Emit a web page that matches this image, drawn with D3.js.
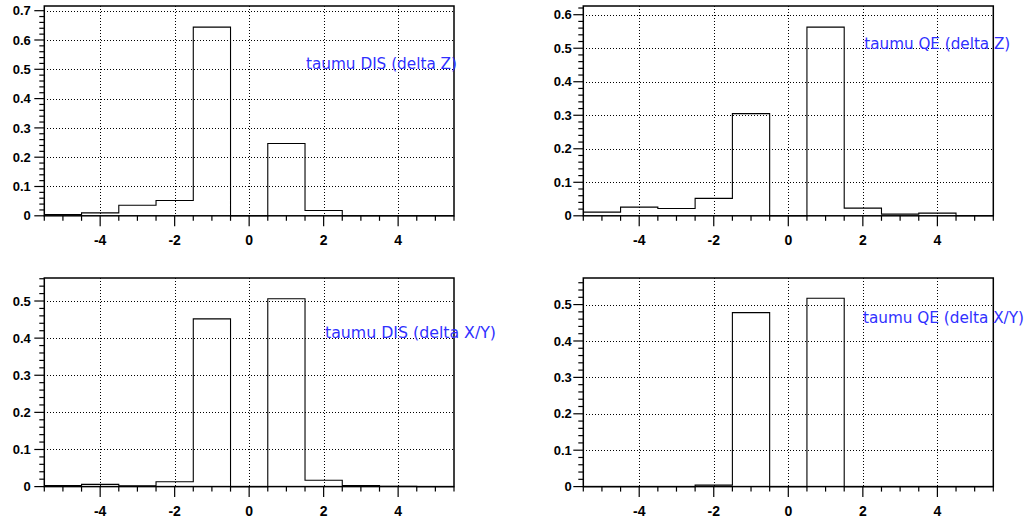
<!DOCTYPE html>
<html>
<head>
<meta charset="utf-8">
<script src="https://cdn.jsdelivr.net/npm/d3@7"></script>
<style>
  html, body { margin: 0; padding: 0; background: #fff; }
  svg { display: block; }
</style>
</head>
<body>
<svg id="chart" width="1030" height="523"></svg>
<script>
// ---- data ----
const binCenters = [-5, -4, -3, -2, -1, 0, 1, 2, 3, 4, 5];
const disZ  = [0.004, 0.010, 0.036, 0.052, 0.644, 0, 0.247, 0.018, 0, 0, 0];
const qeZ   = [0.011, 0.026, 0.022, 0.052, 0.305, 0, 0.563, 0.023, 0.005, 0.008, 0];
const disXY = [0.003, 0.006, 0.002, 0.013, 0.452, 0, 0.506, 0.017, 0.003, 0.001, 0];
const qeXY  = [0, 0, 0, 0.004, 0.478, 0, 0.5175, 0, 0, 0, 0];
const titles = ["taumu DIS (delta Z)", "taumu QE (delta Z)", "taumu DIS (delta X/Y)", "taumu QE (delta X/Y)"];
const yMaxes = [0.716, 0.626, 0.562, 0.573];
const xDomain = [-5.5, 5.5];
const xMajorTicks = [-4, -2, 0, 2, 4];
const binWidth = 1;

// ---- layout (not data) ----
const panels = [
  { values: disZ,  title: titles[0], yMax: yMaxes[0], x0: 44.3,  x1: 454,   y0: 6,   y1: 215.8, tx: 306,   ty: 69,    tw: 151, lab: 13.5 },
  { values: qeZ,   title: titles[1], yMax: yMaxes[1], x0: 583.3, x1: 993.3, y0: 6,   y1: 215.8, tx: 864.3, ty: 49.3,  tw: 146, lab: 11.5 },
  { values: disXY, title: titles[2], yMax: yMaxes[2], x0: 44.3,  x1: 454,   y0: 278, y1: 486.6, tx: 325,   ty: 338.3, tw: 171, lab: 13.5 },
  { values: qeXY,  title: titles[3], yMax: yMaxes[3], x0: 583.3, x1: 993.3, y0: 278, y1: 486.6, tx: 863,   ty: 323.3, tw: 161, lab: 11.5 }
];

const svg = d3.select("#chart");

panels.forEach(p => {
  const x = d3.scaleLinear().domain(xDomain).range([p.x0, p.x1]);
  const y = d3.scaleLinear().domain([0, p.yMax]).range([p.y1, p.y0]);
  const g = svg.append("g");

  const yMajor = d3.range(0, p.yMax + 1e-9, 0.1).map(v => +v.toFixed(2));
  const yMinor = d3.range(0, p.yMax + 1e-9, 0.02).map(v => +v.toFixed(3));
  const xMinor = d3.range(xDomain[0], xDomain[1] + 1e-9, 0.5);

  // grid
  const grid = g.append("g").attr("stroke", "#000").attr("stroke-width", 1)
    .attr("stroke-dasharray", "1,2").attr("shape-rendering", "crispEdges");
  yMajor.filter(v => v > 0).forEach(v => {
    grid.append("line").attr("x1", p.x0).attr("x2", p.x1)
      .attr("y1", Math.round(y(v)) + 0.5).attr("y2", Math.round(y(v)) + 0.5);
  });
  xMajorTicks.forEach(v => {
    grid.append("line").attr("y1", p.y0).attr("y2", p.y1)
      .attr("x1", Math.round(x(v)) + 0.5).attr("x2", Math.round(x(v)) + 0.5);
  });

  // histogram outline
  const pts = binCenters.map((c, i) => [c - binWidth / 2, p.values[i]]);
  pts.push([binCenters[binCenters.length - 1] + binWidth / 2, p.values[p.values.length - 1]]);
  const line = d3.line().x(d => x(d[0])).y(d => y(d[1])).curve(d3.curveStepAfter);
  g.append("path").attr("d", line(pts)).attr("fill", "none")
    .attr("stroke", "#000").attr("stroke-width", 1.1);

  // frame
  g.append("rect").attr("x", p.x0).attr("y", p.y0)
    .attr("width", p.x1 - p.x0).attr("height", p.y1 - p.y0)
    .attr("fill", "none").attr("stroke", "#000").attr("stroke-width", 1.5);

  // y ticks (outside, left)
  const ticks = g.append("g").attr("stroke", "#000").attr("stroke-width", 1.2);
  yMinor.forEach(v => {
    const isMajor = Math.abs(v * 10 - Math.round(v * 10)) < 1e-6;
    ticks.append("line").attr("x1", p.x0 - (isMajor ? 10 : 5)).attr("x2", p.x0)
      .attr("y1", y(v)).attr("y2", y(v));
  });
  // x ticks (outside, below)
  xMinor.forEach(v => {
    const isMajor = xMajorTicks.includes(v);
    ticks.append("line").attr("y1", p.y1).attr("y2", p.y1 + (isMajor ? 10.5 : 5))
      .attr("x1", x(v)).attr("x2", x(v));
  });

  // y labels
  g.append("g").selectAll("text").data(yMajor).join("text")
    .attr("x", p.x0 - p.lab).attr("y", d => y(d))
    .attr("dy", "0.36em").attr("text-anchor", "end")
    .attr("font-family", "'Liberation Sans', Arial, sans-serif")
    .attr("font-weight", "bold").attr("font-size", 13)
    .text(d => d === 0 ? "0" : d3.format(".1f")(d));

  // x labels
  g.append("g").selectAll("text").data(xMajorTicks).join("text")
    .attr("x", d => x(d)).attr("y", p.y1 + 29.5)
    .attr("text-anchor", "middle")
    .attr("font-family", "'Liberation Sans', Arial, sans-serif")
    .attr("font-weight", "bold").attr("font-size", 14)
    .text(d => d);

  // title
  g.append("text").attr("x", p.tx).attr("y", p.ty)
    .attr("font-family", "'DejaVu Sans Condensed', 'DejaVu Sans', sans-serif")
    .attr("font-stretch", "condensed").attr("font-weight", 400)
    .attr("font-size", 16).attr("fill", "#3030ff")
    .attr("textLength", p.tw).attr("lengthAdjust", "spacingAndGlyphs")
    .text(p.title);
});
</script>
</body>
</html>
